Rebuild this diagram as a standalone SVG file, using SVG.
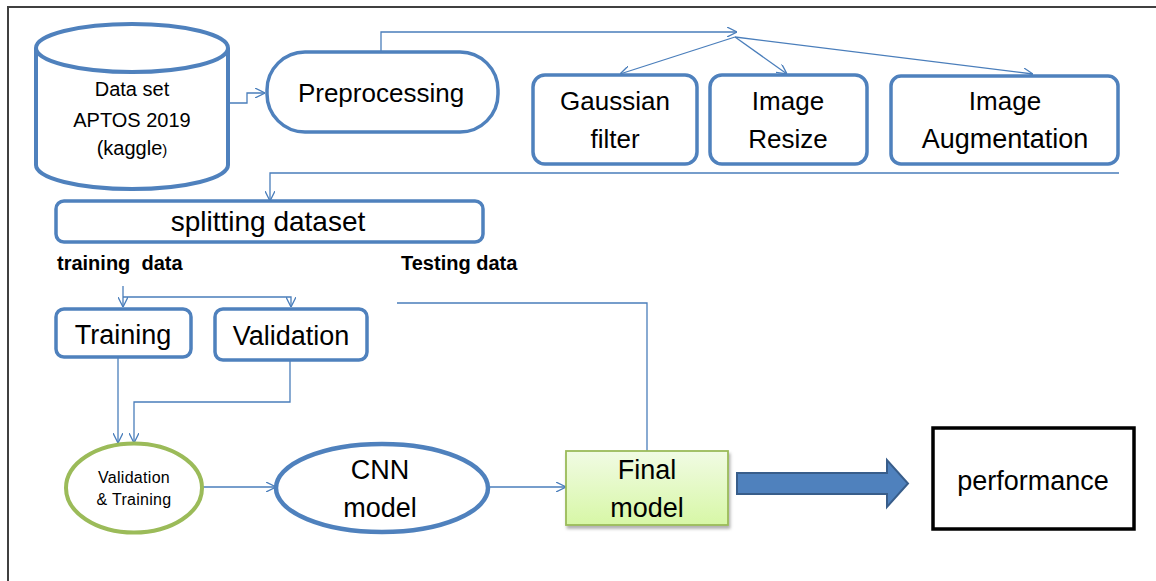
<svg xmlns="http://www.w3.org/2000/svg" width="1156" height="581" viewBox="0 0 1156 581">
<defs>
<marker id="arr" viewBox="0 0 10 10" refX="10" refY="5" markerWidth="10" markerHeight="10" markerUnits="userSpaceOnUse" orient="auto">
<path d="M0,0 L10,5 L0,10" fill="none" stroke="#4a7ebb" stroke-width="1.3"/>
</marker>
<linearGradient id="gFinal" x1="0" y1="0" x2="0" y2="1">
<stop offset="0" stop-color="#f1fbe4"/>
<stop offset="1" stop-color="#d7f7a6"/>
</linearGradient>
<filter id="shadow" x="-10%" y="-10%" width="125%" height="130%">
<feDropShadow dx="1.5" dy="3" stdDeviation="1.8" flood-color="#000" flood-opacity="0.3"/>
</filter>
<style>
.box{fill:#fff;stroke:#4f81bd;stroke-width:3.5}
.conn{fill:none;stroke:#4a7ebb;stroke-width:1.3}
.t{font-family:"Liberation Sans",Arial,sans-serif;fill:#000;text-anchor:middle}
.b{font-family:"Liberation Sans",Arial,sans-serif;font-weight:bold;fill:#000}
</style>
</defs>
<rect width="1156" height="581" fill="#fff"/>
<path d="M8,581 L8,7 L1156,7" fill="none" stroke="#404040" stroke-width="2"/>

<g id="connectors">
<path class="conn" d="M228,103 L247,103 L247,93 L265,93" marker-end="url(#arr)"/>
<path class="conn" d="M381,52 L381,32 L737,32" marker-end="url(#arr)"/>
<path class="conn" d="M735,37 L620,74" marker-end="url(#arr)"/>
<path class="conn" d="M735,37 L787,74" marker-end="url(#arr)"/>
<path class="conn" d="M735,37 L1033,74" marker-end="url(#arr)"/>
<path class="conn" d="M1119,173 L270,173 L270,201" marker-end="url(#arr)"/>
<path class="conn" d="M123,286 L123,307" marker-end="url(#arr)"/>
<path class="conn" d="M123,297 L291,297 L291,307" marker-end="url(#arr)"/>
<path class="conn" d="M118,357 L118,443" marker-end="url(#arr)"/>
<path class="conn" d="M290,360 L290,402 L134,402 L134,443" marker-end="url(#arr)"/>
<path class="conn" d="M202,487 L276,487" marker-end="url(#arr)"/>
<path class="conn" d="M488,487 L566,487" marker-end="url(#arr)"/>
<path class="conn" d="M397,303 L647,303 L647,451"/>
</g>

<g id="dataset">
<path d="M36,48 L36,165 A96,24 0 0 0 228,165 L228,48" fill="#fff" stroke="#4f81bd" stroke-width="4"/>
<ellipse cx="132" cy="48" rx="96" ry="24" fill="#fff" stroke="#4f81bd" stroke-width="4"/>
<text class="t" x="132" y="96" font-size="20">Data set</text>
<text class="t" x="132" y="127" font-size="20">APTOS 2019</text>
<text class="t" x="132" y="155" font-size="20">(kaggle<tspan font-size="15">)</tspan></text>
</g>

<g id="preprocessing">
<rect class="box" x="267" y="52" width="231" height="80" rx="38"/>
<text class="t" x="381" y="102" font-size="26">Preprocessing</text>
</g>

<g id="gaussian">
<rect class="box" x="533" y="75" width="164" height="89" rx="12"/>
<text class="t" x="615" y="110" font-size="26">Gaussian</text>
<text class="t" x="615" y="148" font-size="26">filter</text>
</g>

<g id="resize">
<rect class="box" x="710" y="75" width="157" height="89" rx="12"/>
<text class="t" x="788" y="110" font-size="26">Image</text>
<text class="t" x="788" y="148" font-size="26">Resize</text>
</g>

<g id="augmentation">
<rect class="box" x="891" y="76" width="227" height="88" rx="10"/>
<text class="t" x="1005" y="110" font-size="26">Image</text>
<text class="t" x="1005" y="148" font-size="27">Augmentation</text>
</g>

<g id="splitting">
<rect class="box" x="56" y="201" width="427" height="41" rx="8"/>
<text class="t" x="268" y="231" font-size="28">splitting dataset</text>
</g>

<g id="labels">
<text class="b" x="57" y="270" font-size="20" xml:space="preserve">training  data</text>
<text class="b" x="401" y="270" font-size="20">Testing data</text>
</g>

<g id="training">
<rect class="box" x="56" y="309" width="135" height="48" rx="8"/>
<text class="t" x="123" y="344" font-size="27">Training</text>
</g>

<g id="validation">
<rect class="box" x="215" y="309" width="152" height="51" rx="8"/>
<text class="t" x="291" y="345" font-size="27">Validation</text>
</g>

<g id="valtrain">
<ellipse cx="134" cy="488" rx="68" ry="44.5" fill="#fff" stroke="#9bbb59" stroke-width="4"/>
<text class="t" x="134" y="483" font-size="16" letter-spacing="0.3">Validation</text>
<text class="t" x="134" y="505" font-size="16" letter-spacing="0.3">&amp; Training</text>
</g>

<g id="cnn">
<ellipse cx="382" cy="488" rx="106" ry="44" fill="#fff" stroke="#4f81bd" stroke-width="4.5"/>
<text class="t" x="380" y="479" font-size="27">CNN</text>
<text class="t" x="380" y="517" font-size="27">model</text>
</g>

<g id="final">
<rect x="566" y="451" width="162" height="74" fill="url(#gFinal)" stroke="#9bbb59" stroke-width="1.8" filter="url(#shadow)"/>
<text class="t" x="647" y="479" font-size="27">Final</text>
<text class="t" x="647" y="517" font-size="27">model</text>
</g>

<g id="bigarrow">
<path d="M737,473 L887,473 L887,460 L908,483.5 L887,507 L887,494 L737,494 Z" fill="#4f81bd" stroke="#385d8a" stroke-width="2"/>
</g>

<g id="performance">
<rect x="933" y="428" width="201" height="101" fill="#fff" stroke="#000" stroke-width="3.5"/>
<text class="t" x="1033" y="490" font-size="27">performance</text>
</g>
</svg>
